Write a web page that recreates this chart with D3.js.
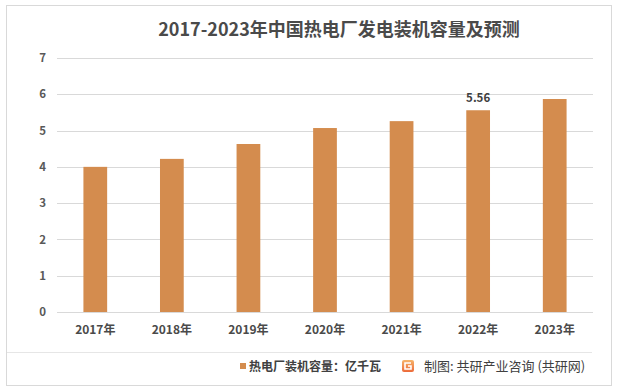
<!DOCTYPE html>
<html><head><meta charset="utf-8">
<script src="https://cdn.jsdelivr.net/npm/d3@7"></script>
<style>body{margin:0;background:#fff;}svg{display:block;font-family:"Noto Sans CJK SC","Noto Sans",sans-serif;}</style>
</head><body>
<script>
const categories = ["2017年","2018年","2019年","2020年","2021年","2022年","2023年"];
const values = [4.0, 4.22, 4.63, 5.07, 5.26, 5.56, 5.87];
const labelled = {"2022年": "5.56"};
const yTicks = [0,1,2,3,4,5,6,7];
const title = "2017-2023年中国热电厂发电装机容量及预测";
const legendText = "热电厂装机容量：亿千瓦";
const sourceText = "制图: 共研产业咨询 (共研网)";

const W = 621, H = 392;
const svg = d3.select("body").append("svg").attr("width", W).attr("height", H);
svg.append("rect").attr("x",6.5).attr("y",5.5).attr("width",605).attr("height",380).attr("fill","#fff").attr("stroke","#d9d9d9");

const x = d3.scaleBand().domain(categories).range([57, 593]).paddingInner(0.69).paddingOuter(0.345);
const y = d3.scaleLinear().domain([0,7]).range([312, 58]);

svg.append("text").attr("x", 339).attr("y", 36).attr("text-anchor","middle")
  .attr("font-size", 18).attr("font-weight","bold").attr("fill","#4a4a4a").text(title);

// gridlines
svg.append("g").selectAll("line").data(yTicks).join("line")
  .attr("x1",57).attr("x2",593).attr("y1",d=>Math.round(y(d))+0.5).attr("y2",d=>Math.round(y(d))+0.5)
  .attr("stroke","#d9d9d9").attr("stroke-width",1);

// y axis
const ya = svg.append("g").attr("transform","translate(57,0)")
  .call(d3.axisLeft(y).tickValues(yTicks).tickFormat(d3.format("d")).tickSize(0).tickPadding(11));
ya.select(".domain").remove();
ya.selectAll("text").attr("font-size",11.5).attr("fill","#595959").attr("font-weight","bold").attr("font-family","'Noto Sans CJK SC',sans-serif");

// bars
svg.append("g").selectAll("rect").data(categories).join("rect")
  .attr("x", d=>x(d)).attr("width", x.bandwidth())
  .attr("y", (d,i)=>y(values[i])).attr("height",(d,i)=>y(0)-y(values[i]))
  .attr("fill","#d48c4e");

// x axis
const xa = svg.append("g").attr("transform","translate(0,312)").call(d3.axisBottom(x).tickSize(0).tickPadding(13));
xa.select(".domain").remove();
xa.selectAll("text").attr("font-size",12).attr("fill","#4a4a4a").attr("font-weight","bold").attr("font-family","'Noto Sans CJK SC',sans-serif");

// data label
svg.append("g").selectAll("text").data(categories.filter(c=>labelled[c])).join("text")
  .attr("x", d=>x(d)+x.bandwidth()/2).attr("y", d=>y(values[categories.indexOf(d)])-8)
  .attr("text-anchor","middle").attr("font-size",11.5).attr("fill","#404040").attr("font-weight","bold")
  .text(d=>labelled[d]);

// separator
svg.append("line").attr("x1",7).attr("x2",592).attr("y1",352.5).attr("y2",352.5).attr("stroke","#e6e6e6");

// legend
svg.append("rect").attr("x",240).attr("y",363).attr("width",6).attr("height",6).attr("fill","#d48c4e");
svg.append("text").attr("x",249).attr("y",370.5).attr("font-size",12).attr("fill","#404040").attr("font-weight","bold").text(legendText);

// logo
const defs = svg.append("defs");
const lg = defs.append("linearGradient").attr("id","lg").attr("x1","0").attr("y1","0").attr("x2","0").attr("y2","1");
lg.append("stop").attr("offset","0").attr("stop-color","#f6b46b");
lg.append("stop").attr("offset","1").attr("stop-color","#ec6a3a");
svg.append("rect").attr("x",402).attr("y",360).attr("width",12).attr("height",12).attr("rx",2).attr("fill","url(#lg)");
svg.append("path").attr("d","M411,363 H405 V369 H411 V366 H408").attr("fill","none").attr("stroke","#fff").attr("stroke-width",1.6);

svg.append("text").attr("x",424).attr("y",371).attr("font-size",13).attr("fill","#404040").text(sourceText);
</script>
</body></html>
